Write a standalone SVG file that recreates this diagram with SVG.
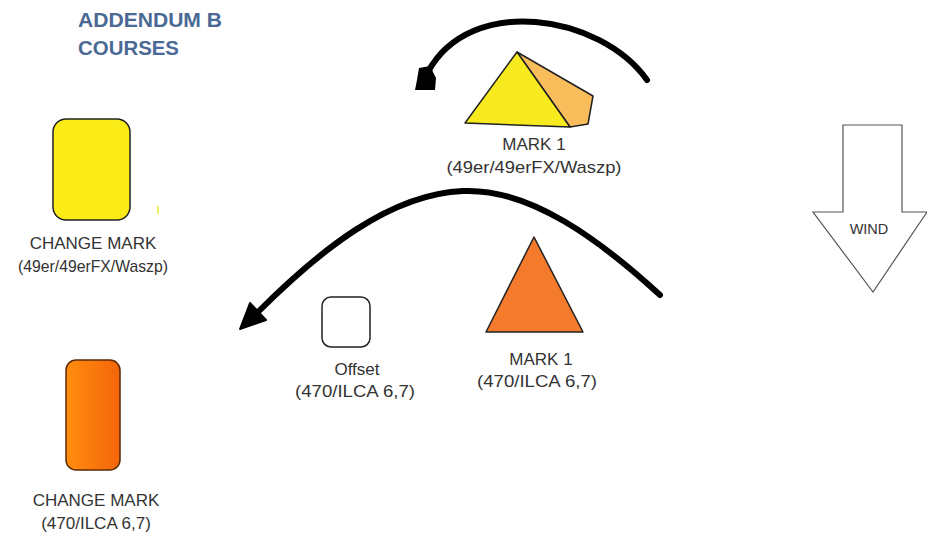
<svg xmlns="http://www.w3.org/2000/svg" width="927" height="538" viewBox="0 0 927 538">
<style>
.lbl{font-family:"Liberation Sans",Arial,sans-serif;font-size:17px;fill:#333;text-anchor:middle}
.hdr{font-family:"Liberation Sans",Arial,sans-serif;font-size:19.5px;font-weight:bold;fill:#4a6a95}
.arc{fill:none;stroke:#000;stroke-width:6;stroke-linecap:round}
.ol{stroke:#222;stroke-width:1.5;stroke-linejoin:round}
</style>
<defs>
<linearGradient id="og" x1="0" y1="0" x2="1" y2="0">
<stop offset="0" stop-color="#ff8d0e"/>
<stop offset="1" stop-color="#f4650a"/>
</linearGradient>
</defs>
<rect width="927" height="538" fill="#fff"/>
<g id="title">
<text class="hdr" x="78" y="27" textLength="144" lengthAdjust="spacingAndGlyphs">ADDENDUM B</text>
<text class="hdr" x="78" y="55" textLength="101" lengthAdjust="spacingAndGlyphs">COURSES</text>
</g>
<g id="connectors">
<path class="arc" d="M647 80 C600 14 470 -6 428 72"/>
<polygon points="419,68 430,66 436,78 435,90 415,90 417,80" fill="#000"/>
<path class="arc" d="M660 295 C600 240 530 188 463 191 C390 194 320 250 258 312"/>
<polygon points="240,329 250,303 266,320" fill="#000" stroke="#000" stroke-width="2" stroke-linejoin="round"/>
</g>
<g id="change-mark-yellow">
<rect x="53" y="119" width="77" height="101" rx="13" fill="#fbec18" class="ol"/>
<line x1="158" y1="206" x2="158" y2="214" stroke="#f4ee60" stroke-width="2"/>
<text class="lbl" x="93" y="249">CHANGE MARK</text>
<text class="lbl" x="93" y="272" textLength="150" lengthAdjust="spacingAndGlyphs">(49er/49erFX/Waszp)</text>
</g>
<g id="mark1-yellow">
<polygon points="517,52 593,96 588,124 570,127" fill="#f9bd5c" class="ol"/>
<polygon points="517,52 465,123 570,127" fill="#f7ea1e" class="ol"/>
<text class="lbl" x="534" y="150">MARK 1</text>
<text class="lbl" x="534" y="173" textLength="175" lengthAdjust="spacingAndGlyphs">(49er/49erFX/Waszp)</text>
</g>
<g id="offset">
<rect x="322" y="297" width="48" height="50" rx="9" fill="#fff" class="ol"/>
<text class="lbl" x="357" y="375">Offset</text>
<text class="lbl" x="355" y="397" textLength="120" lengthAdjust="spacingAndGlyphs">(470/ILCA 6,7)</text>
</g>
<g id="mark1-orange">
<polygon points="534,237 486,332 583,332" fill="#f47b2c" class="ol"/>
<text class="lbl" x="541" y="365">MARK 1</text>
<text class="lbl" x="537" y="387" textLength="120" lengthAdjust="spacingAndGlyphs">(470/ILCA 6,7)</text>
</g>
<g id="change-mark-orange">
<rect x="66" y="360" width="54" height="110" rx="10" fill="url(#og)" stroke="#5a2a00" stroke-width="1.5"/>
<text class="lbl" x="96" y="506">CHANGE MARK</text>
<text class="lbl" x="96" y="529">(470/ILCA 6,7)</text>
</g>
<g id="wind">
<polygon points="843,125 902,125 902,212 927,212 873,292 813,212 843,212" fill="#fff" stroke="#555" stroke-width="1.2" stroke-linejoin="miter"/>
<text x="869" y="234" font-family="Liberation Sans,Arial,sans-serif" font-size="14.5" fill="#333" text-anchor="middle">WIND</text>
</g>
</svg>
